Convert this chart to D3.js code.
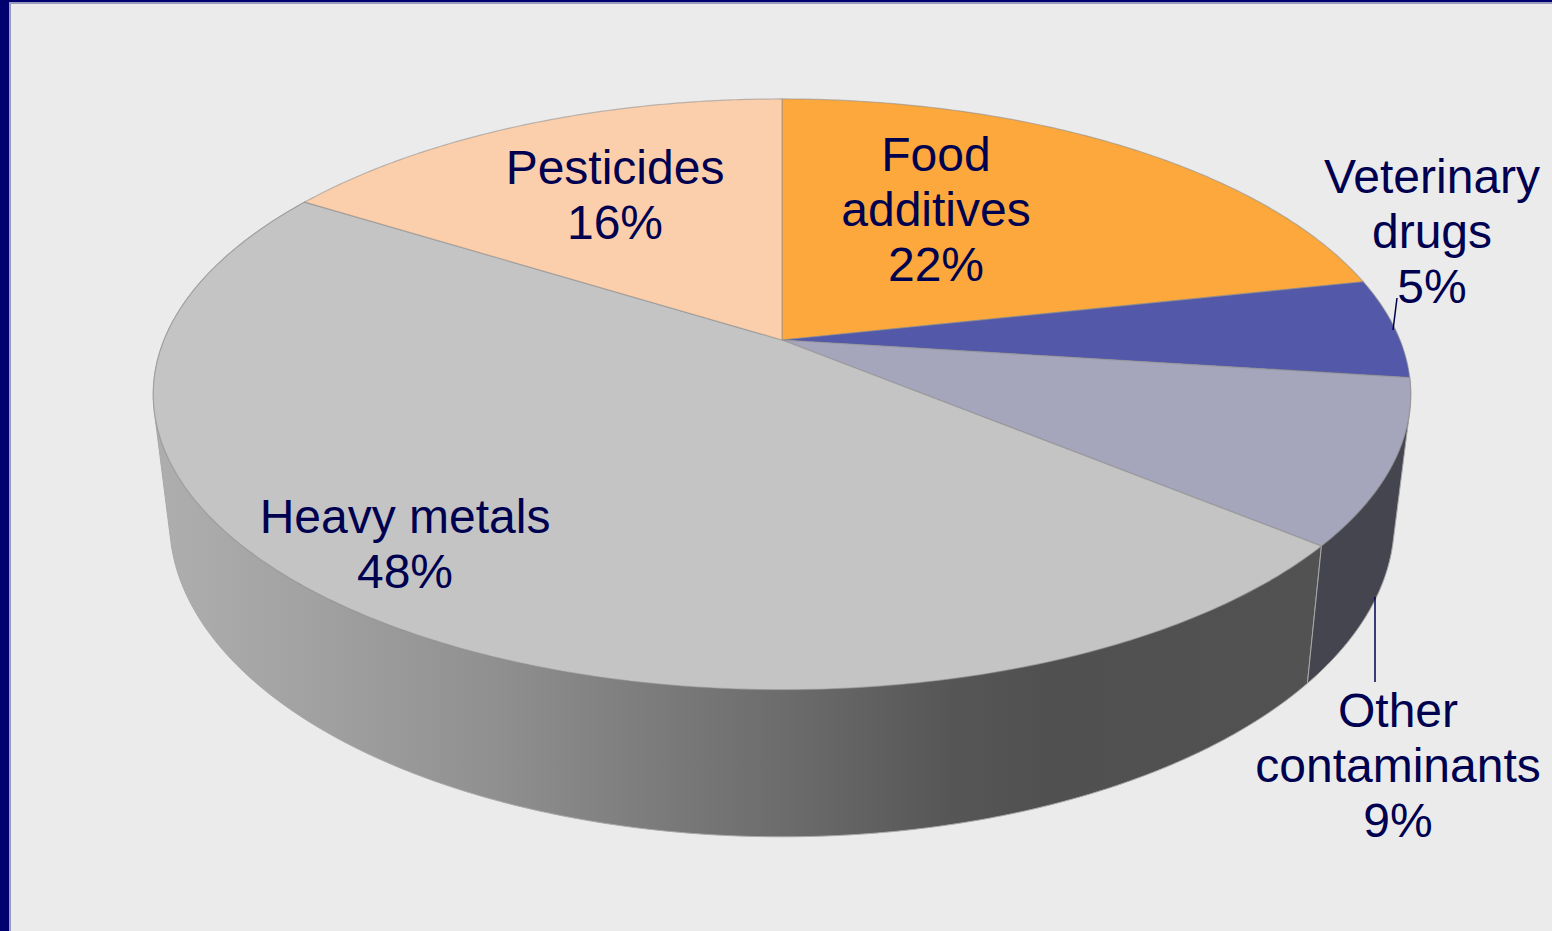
<!DOCTYPE html>
<html>
<head>
<meta charset="utf-8">
<script src="https://cdn.jsdelivr.net/npm/d3@7"></script>
<style>
	html, body { margin: 0; padding: 0; background: #ebebeb; overflow: hidden; }
	text { font-family: "Liberation Sans", Arial, sans-serif; font-size: 48px; fill: #000050; text-anchor: middle; }
</style>
</head>
<body>
<svg></svg>
<script>
// data, clockwise from the top of the pie (labels show these rounded)
const categories = ["Food additives", "Veterinary drugs", "Other contaminants", "Heavy metals", "Pesticides"];
const values = [21.6, 5.45, 8.95, 47.9, 16.1];
const labelLines = [["Food", "additives"], ["Veterinary", "drugs"], ["Other", "contaminants"], ["Heavy metals"], ["Pesticides"]];
const topColors = ["#fca83c", "#5358a8", "#a5a5bb", "#c4c4c4", "#fbcfac"];
const labelPos = [[936, 171], [1432, 193], [1398, 727], [405, 533], [615, 184]];
const leaders = [[[1393, 330], [1397, 298]], [[1375, 597], [1375, 682]]];

const width = 1552;
const height = 931;
const svg = d3.select("svg").attr("width", width).attr("height", height);

// frame
svg.append("rect").attr("width", width).attr("height", height).attr("fill", "#00006e");
svg.append("rect").attr("x", 9).attr("y", 2).attr("width", width - 9).attr("height", height - 2).attr("fill", "#9a9abf");
svg.append("rect").attr("x", 11).attr("y", 4).attr("width", width - 11).attr("height", height - 4).attr("fill", "#ebebeb");

// the disc is seen in perspective, so its centre sits above the middle of the ellipse
const apex = [782, 340];
const k = -0.184;
const scaleU = d3.scaleLinear().domain([-1, 1]).range([-618, 618]);
const scaleV = d3.scaleLinear().domain([-1, 1]).range([-285.4, 285.4]);

function topPoint(a) {
	const u = Math.sin(a);
	const v = -Math.cos(a);
	const w = 1 + k * v;
	return [apex[0] + scaleU(u) / w, apex[1] + scaleV(v) / w];
}

// bottom edge of the wall
function bottomPoint(a) {
	const p = topPoint(a);
	return [782 + 0.974 * (p[0] - 782), 522 + 1.068 * (p[1] - 395)];
}

const pie = d3.pie().sort(null).value((d) => d);
const slices = pie(values);
const line = d3.line();

function rimAngles(d) {
	const n = Math.ceil((d.endAngle - d.startAngle) / 0.01);
	return d3.range(n + 1).map((i) => d.startAngle + ((d.endAngle - d.startAngle) * i) / n);
}

// wall shading
const defs = svg.append("defs");
const wallStops = [[172, "#adadad"], [330, "#a0a0a0"], [500, "#8f8f8f"], [650, "#7c7c7c"], [800, "#6a6a6a"], [950, "#565656"], [1050, "#505050"], [1310, "#525252"]];
const grad = defs.append("linearGradient").attr("id", "wallGrad").attr("gradientUnits", "userSpaceOnUse").attr("x1", 172).attr("x2", 1310).attr("y1", 0).attr("y2", 0);
grad.selectAll("stop")
	.data(wallStops)
	.enter()
	.append("stop")
	.attr("offset", (d) => (d[0] - 172) / (1310 - 172))
	.attr("stop-color", (d) => d[1]);

// only these two slices have a visible wall
const wallSlices = [{ i: 3, fill: "url(#wallGrad)" }, { i: 2, fill: "#45454f" }];
svg.append("g")
	.selectAll("path")
	.data(wallSlices)
	.enter()
	.append("path")
	.attr("d", (d) => {
		const angles = rimAngles(slices[d.i]);
		const hull = d3.polygonHull(angles.map(topPoint).concat(angles.map(bottomPoint)));
		return line(hull) + "Z";
	})
	.attr("fill", (d) => d.fill)
	.attr("stroke", "#a8a8a8")
	.attr("stroke-width", 1);

// top faces
svg.append("g")
	.selectAll("path")
	.data(slices)
	.enter()
	.append("path")
	.attr("d", (d) => line([apex].concat(rimAngles(d).map(topPoint))) + "Z")
	.attr("fill", (d, i) => topColors[i])
	.attr("stroke", "#8c8c8c")
	.attr("stroke-opacity", 0.55)
	.attr("stroke-width", 1.2)
	.attr("stroke-linejoin", "round");

// leader lines
svg.append("g")
	.selectAll("path")
	.data(leaders)
	.enter()
	.append("path")
	.attr("d", (d) => line(d))
	.attr("stroke", "#000050")
	.attr("stroke-width", 1.5)
	.attr("fill", "none");

// labels
const label = svg.append("g")
	.selectAll("text")
	.data(slices)
	.enter()
	.append("text")
	.attr("transform", (d, i) => `translate(${labelPos[i][0]},${labelPos[i][1]})`);

label.each(function (d, i) {
	const lines = labelLines[i].concat([Math.round(d.value) + "%"]);
	d3.select(this)
		.selectAll("tspan")
		.data(lines)
		.enter()
		.append("tspan")
		.attr("x", 0)
		.attr("y", (t, j) => j * 55)
		.text((t) => t);
});
</script>
</body>
</html>
